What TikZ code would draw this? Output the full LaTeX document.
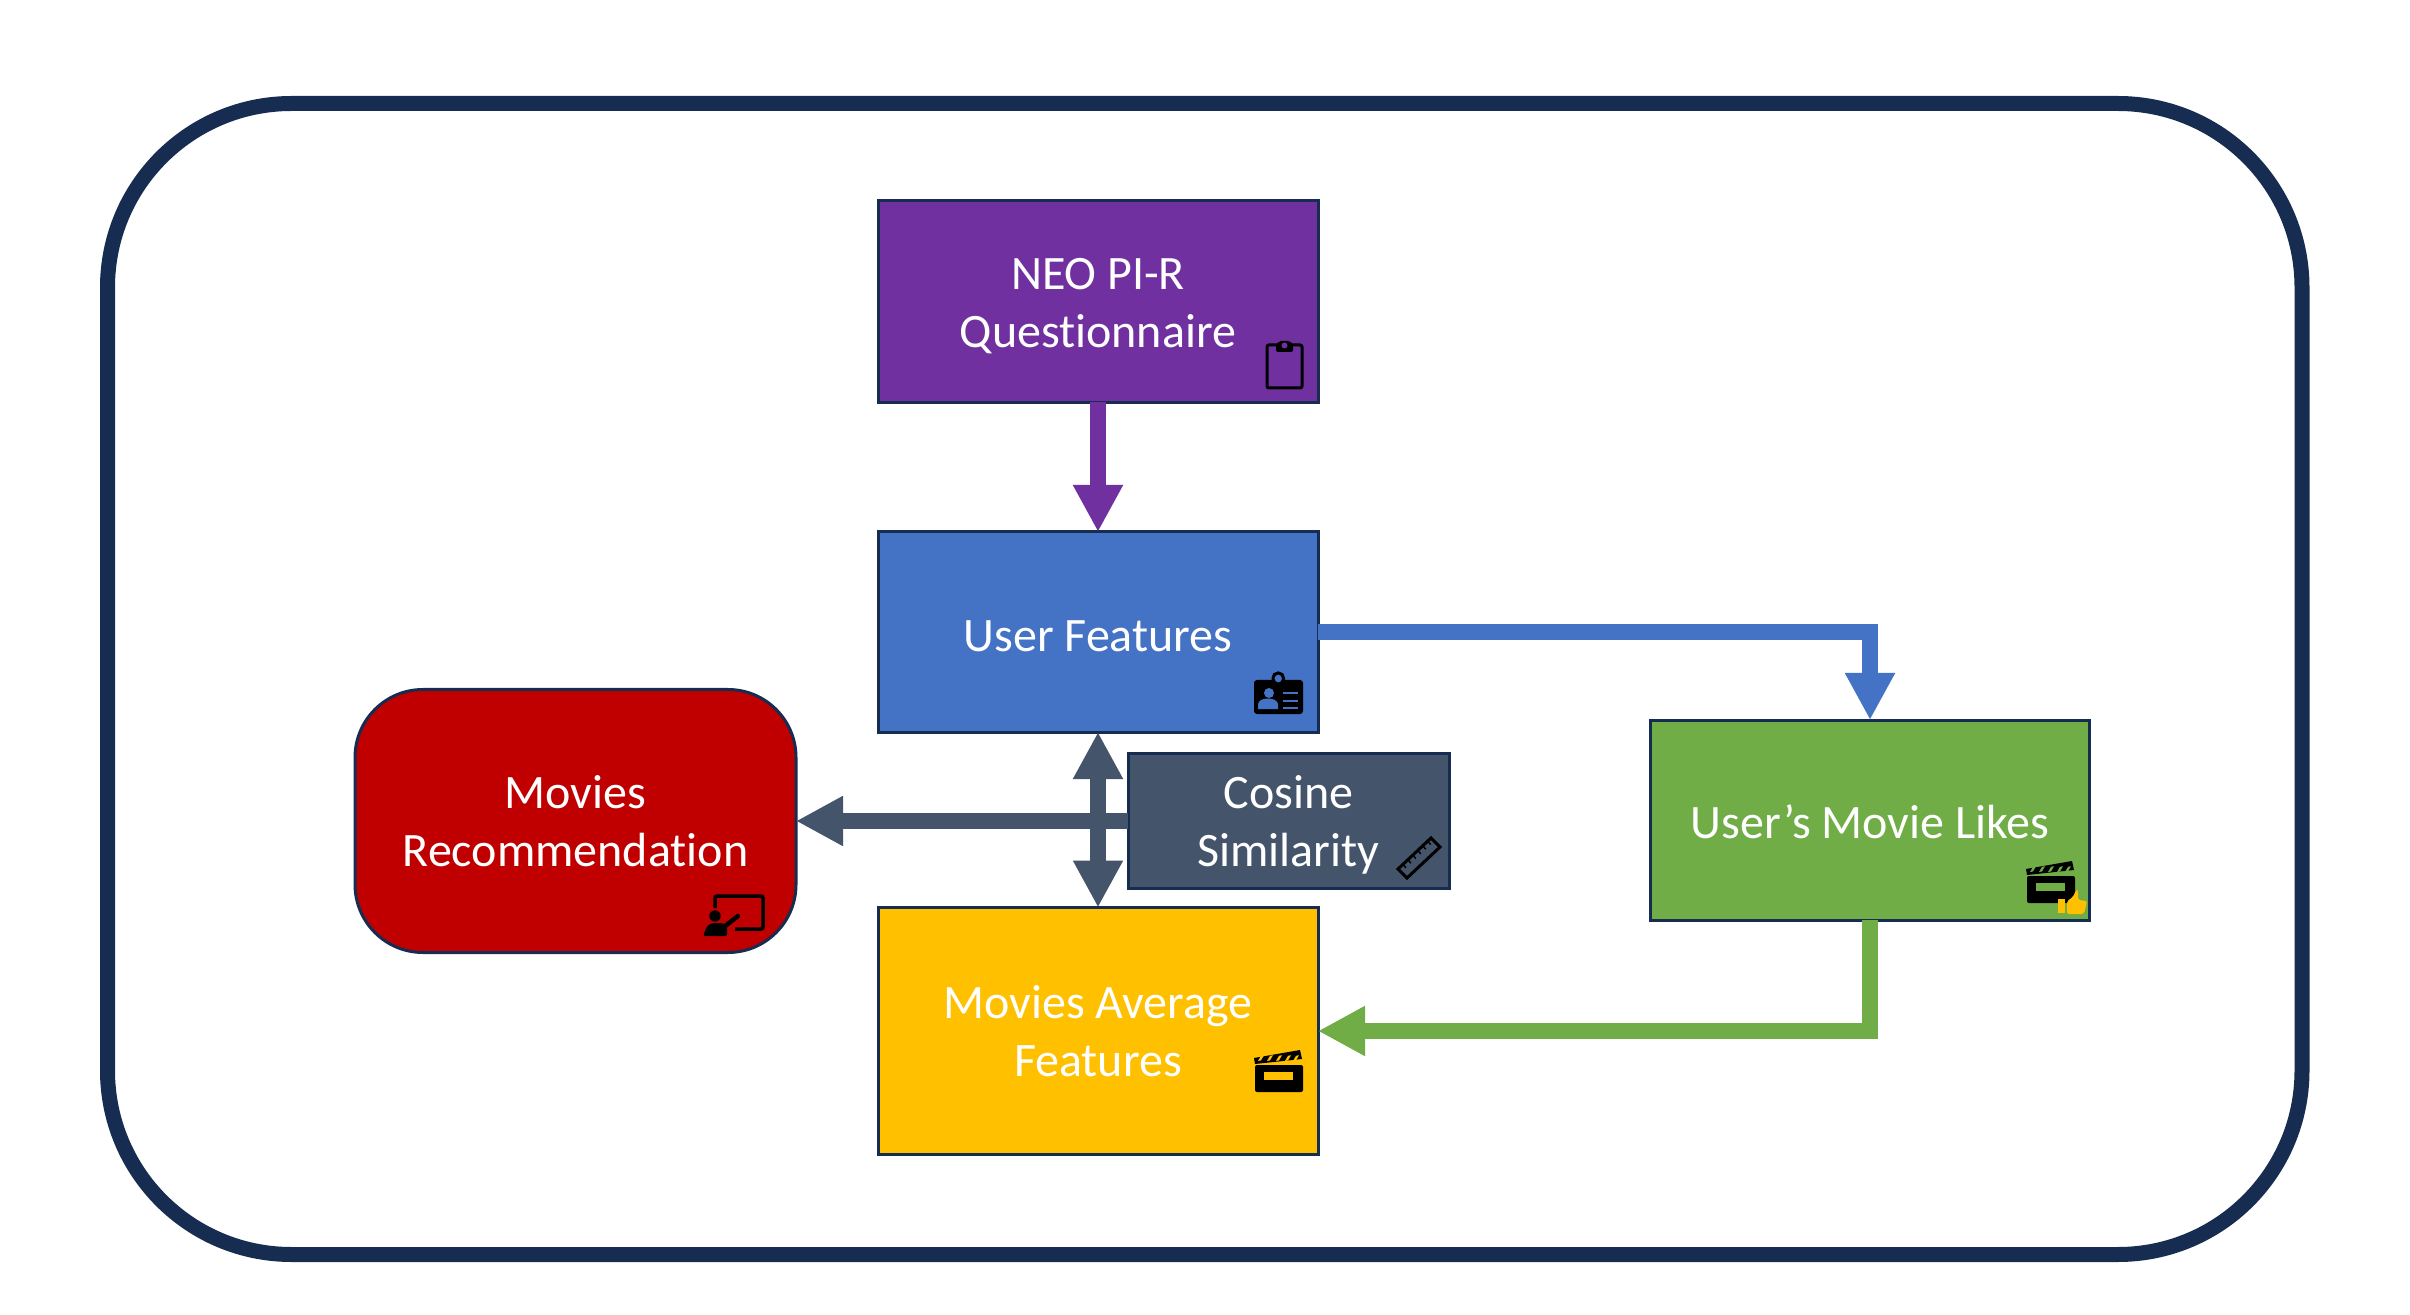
\documentclass[tikz,border=0pt]{standalone}
\usepackage{fontspec}
\setmainfont{Carlito}[Ligatures=NoCommon]
\usepackage{tikz}
\usetikzlibrary{arrows.meta}
\usetikzlibrary{calc}
\definecolor{navy}{HTML}{172C51}
\definecolor{neopurple}{HTML}{7030A0}
\definecolor{userblue}{HTML}{4472C4}
\definecolor{moviegold}{HTML}{FFC000}
\definecolor{likesgreen}{HTML}{70AD47}
\definecolor{recred}{HTML}{C00000}
\definecolor{cosgray}{HTML}{44546A}
\tikzset{
  box/.style={draw=navy,line width=1.5pt,inner sep=0pt,outer sep=0pt,align=center,
    text=white,font=\fontsize{24}{29}\selectfont},
  flow/.style={line width=7.75pt},
  pics/clapper/.style={code={
    \fill [black,rounded corners=1pt] (0,0) rectangle (48,27);
    \fill [#1] (9,7) rectangle (38,15);
    \fill [black] (-1,-7) -- (45,-15) -- (47,-6) -- (0,-1) -- cycle;
    \foreach \s in {3,12,21,30,38}
      \fill [#1] (\s,-4) -- (\s+3,-9.2) -- (\s+6,-9.8) -- (\s+3,-4.6) -- cycle;
  }},
}
\begin{document}
\begin{tikzpicture}[x=0.5pt,y=0.5pt,yscale=-1,>={Triangle[length=23.5pt,width=23.5pt]}]
\useasboundingbox (0,0) rectangle (2410,1315);
\fill [white] (0,0) rectangle (2410,1315);

%Outer frame
\draw [navy,line width=7.5pt,rounded corners=92pt] (107.5,103.5) rectangle (2302,1254.5);

% Text Node
\node (neo) [box,fill=neopurple,minimum width=220pt,minimum height=100.75pt] at (1098,301.5) {\rule{0pt}{20pt}NEO PI-R\\Questionnaire};
% Text Node
\node (user) [box,fill=userblue,minimum width=220pt,minimum height=100pt] at (1098,632) {\rule{0pt}{19.5pt}User Features};
% Text Node
\node (average) [box,fill=moviegold,minimum width=220pt,minimum height=123.5pt] at (1098,1031) {Movies Average\\Features};
% Text Node
\node (cosine) [box,fill=cosgray,minimum width=160.5pt,minimum height=67.5pt] at (1288.5,821) {\rule{0pt}{20.5pt}Cosine\\Similarity};
% Text Node
\node (likes) [box,fill=likesgreen,minimum width=219.5pt,minimum height=100pt] at (1870,820) {\rule{0pt}{18.5pt}User’s Movie Likes};
% Text Node
\node (rec) [box,fill=recred,minimum width=220.5pt,minimum height=131.5pt,rounded corners=34pt] at (575.5,821) {Movies\\Recommendation};

%Connectors
\draw [flow,neopurple,->] (neo.south) -- (user.north);
\draw [flow,userblue,->] (user.east) -| (likes.north);
\draw [flow,likesgreen,->] (likes.south) |- (average.east);
\draw [flow,cosgray,->] (cosine.west) -- (rec.east);
\draw [flow,cosgray,<->] (user.south) -- (average.north);

%Clipboard icon
\draw [black,line width=1.5pt,rounded corners=1pt] (1267,345) rectangle (1302,388);
\fill [black,rounded corners=1pt] (1276,352) -- (1276,345) -- (1279,341) -- (1290,341) -- (1293,345) -- (1293,352) -- cycle;
\fill [neopurple] (1284.5,345.5) circle (3);

%Badge icon
\fill [black,rounded corners=1.5pt] (1254,680) rectangle (1303,714);
\draw [black,line width=1.5pt,fill=userblue,rounded corners=2.5pt] (1273,673) rectangle (1283.5,684);
\fill [userblue] (1269,693) circle (5);
\fill [userblue] (1258,709) -- (1258,704) .. controls (1259,700) and (1263,698.5) .. (1268,698.5) .. controls (1273,698.5) and (1277,700) .. (1278,704) -- (1278,709) -- cycle;
\foreach \y in {693,701,708}
  \fill [userblue] (1283,\y-1.25) rectangle (1298,\y+1.25);

%Ruler icon
\draw [black,line width=1.5pt,line join=miter] (1431,838) -- (1440,847) -- (1407,878) -- (1398,869) -- cycle;
\foreach \t in {0.15,0.3,0.45,0.6,0.75,0.9}
  \draw [black,line width=0.75pt] ($(1398,869)!\t!(1431,838)$) -- ++(3,3.5);

%Clapper icons
\pic [yscale=-1] at (1255,1065) {clapper=moviegold};
\pic [yscale=-1] at (2027,876) {clapper=likesgreen};

%Thumb icon
\fill [moviegold] (2058,899) rectangle (2065,913);
\fill [moviegold,rounded corners=1pt] (2067,914) -- (2067,901) -- (2073,897) -- (2076,890) -- (2078,890) -- (2078,900) -- (2087,901) -- (2084,914) -- cycle;

%Presentation icon
\draw [black,line width=1.75pt,rounded corners=1pt] (715,908) -- (715,896) -- (763,896) -- (763,929) -- (735,929);
\fill [black] (715,916) circle (5.7);
\fill [black,rounded corners=1pt] (703,936) -- (707,926) -- (712,923) -- (722,923) -- (727,925) -- (727,936) -- cycle;
\draw [black,line width=2.25pt,line cap=round] (724,927) -- (738,916);
\end{tikzpicture}
\end{document}
